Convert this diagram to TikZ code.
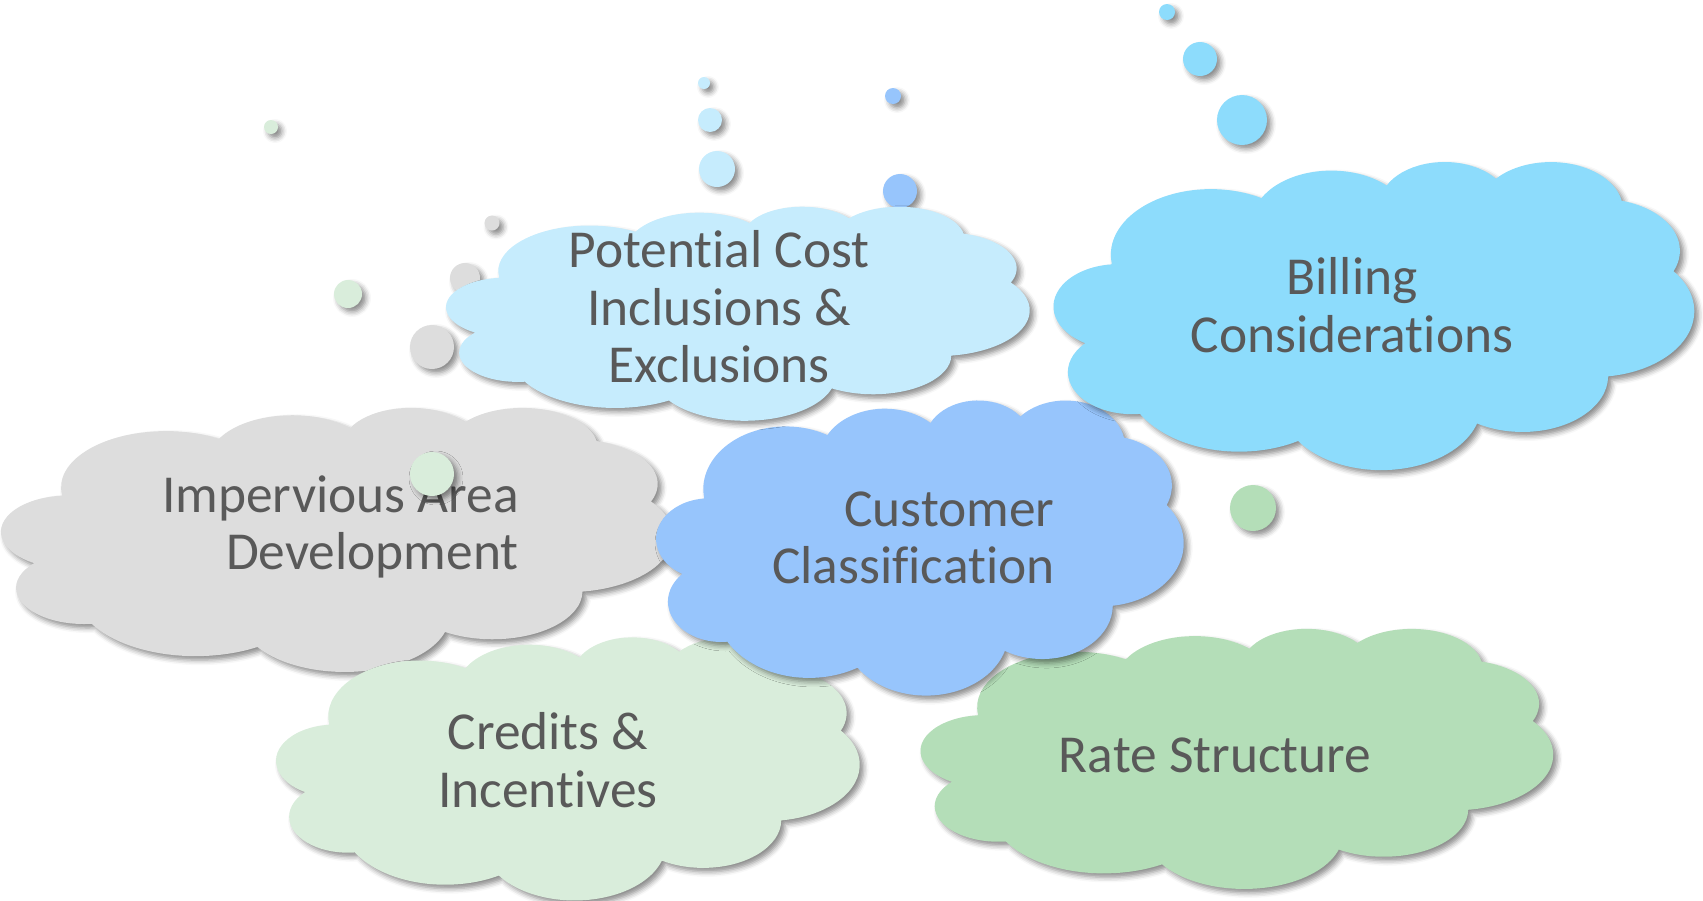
\documentclass[tikz,border=0pt]{standalone}
\usepackage{fontspec}
\setmainfont{Carlito}[Ligatures=NoCommon]
\usetikzlibrary{shadows.blur}

\definecolor{costblue}{RGB}{198,236,253}
\definecolor{billblue}{RGB}{141,220,252}
\definecolor{custblue}{RGB}{151,197,252}
\definecolor{impgray}{RGB}{221,221,221}
\definecolor{credgreen}{RGB}{217,237,219}
\definecolor{rategreen}{RGB}{180,222,184}
\definecolor{txtgray}{RGB}{89,89,89}

\begin{document}
\begin{tikzpicture}[x=0.5pt, y=-0.5pt,
	soft/.style={blur shadow={shadow xshift=2pt, shadow yshift=-2pt, shadow blur radius=2.5pt, shadow opacity=45}},
	pics/pptcloud/.style n args={3}{code={
		\path[fill=#3, soft, x=#1pt/864, y=-#2pt/864] (-177,-72.3)
		foreach \rx/\ry/\st/\sw [evaluate=\st as \ta using {atan2(\rx*sin(\st),\ry*cos(\st))},
			evaluate=\sw as \da using {mod(atan2(\rx*sin(\st+\sw),\ry*cos(\st+\sw))-atan2(\rx*sin(\st),\ry*cos(\st))+720,360)}]
		in {67.53/91.90/-190.4875/123.7805, 53.33/72.67/-144.1024/89.9452,
			43.65/59.45/-145.8079/99.7230, 48.57/65.95/-130.9861/117.2417,
			53.33/72.73/-78.7089/109.0269, 67.75/92.20/-46.2673/130.2690,
			57.85/78.67/0.6250/114.0333, 67.52/92.15/22.4516/115.1726,
			77.20/105.43/66.2426/75.7110, 43.60/59.18/-274.9421/146.7356,
			43.45/59.45/-246.8285/152.5189}
		{arc[start angle=\ta, delta angle=\da, x radius=\rx, y radius=\ry]} -- cycle;
	}},
	bubble/.style={circle, inner sep=0pt, soft},
	txt/.style={text=txtgray, font=\fontsize{26.7}{28.8}\selectfont, inner sep=0pt, align=center}]

	\useasboundingbox (0,0) rectangle (1703,900);

	% bubbles
	\node (bill1)[bubble, fill=billblue, minimum size=8pt] at (1167,12){};
	\node (bill2)[bubble, fill=billblue, minimum size=17pt] at (1200,59){};
	\node (bill3)[bubble, fill=billblue, minimum size=25pt] at (1242,120){};
	\node (cost1)[bubble, fill=costblue, minimum size=6pt] at (704,83){};
	\node (cost2)[bubble, fill=costblue, minimum size=12pt] at (710,120){};
	\node (cost3)[bubble, fill=costblue, minimum size=18pt] at (717,169){};
	\node (cust1)[bubble, fill=custblue, minimum size=8pt] at (893,96){};
	\node (cust2)[bubble, fill=custblue, minimum size=17pt] at (900,191){};
	\node (imp1)[bubble, fill=impgray, minimum size=7.5pt] at (492,223){};
	\node (imp2)[bubble, fill=impgray, minimum size=15pt] at (465,278){};
	\node (imp3)[bubble, fill=impgray, minimum size=22pt] at (432,347){};
	\node (cred1)[bubble, fill=credgreen, minimum size=7pt] at (271,127){};
	\node (cred2)[bubble, fill=credgreen, minimum size=14pt] at (348,294){};
	\node (rate1)[bubble, fill=rategreen, minimum size=23pt] at (1253,508){};

	% clouds
	\pic at (337,539) {pptcloud={671}{264}{impgray}};
	\node (imp)[txt, align=right, anchor=east] at (519,527){Impervious Area\\Development};
	\node (cred3)[bubble, fill=credgreen, minimum size=22pt] at (432,474){};

	\pic at (568,768) {pptcloud={583}{263}{credgreen}};
	\node (cred)[txt] at (548,760){Credits \&\\Incentives};

	\pic at (1237,758) {pptcloud={632}{260}{rategreen}};
	\node (rate)[txt] at (1215,755){Rate Structure};

	\pic at (920,547) {pptcloud={527}{295}{custblue}};
	\node (cust)[txt, align=right, anchor=east] at (1055,538){Customer\\Classification};

	\pic at (738,313) {pptcloud={583}{214}{costblue}};
	\node (cost)[txt] at (719,307){Potential Cost\\Inclusions \&\\Exclusions};

	\pic at (1374,315) {pptcloud={640}{308}{billblue}};
	\node (bill)[txt] at (1352,305){Billing\\Considerations};
\end{tikzpicture}
\end{document}
